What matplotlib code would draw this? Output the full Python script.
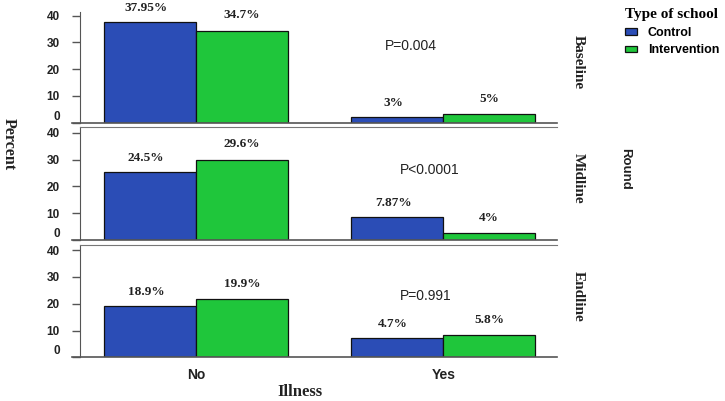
import matplotlib
matplotlib.use("Agg")
import matplotlib.pyplot as plt

rounds = ["Baseline", "Midline", "Endline"]
illness = ["No", "Yes"]
control = [[37.5, 2.0], [25.4, 8.7], [19.0, 7.3]]
intervention = [[34.4, 3.1], [30.0, 2.5], [21.7, 8.3]]
control_labels = [["37.95%", "3%"], ["24.5%", "7.87%"], ["18.9%", "4.7%"]]
intervention_labels = [["34.7%", "5%"], ["29.6%", "4%"], ["19.9%", "5.8%"]]
p_values = ["P=0.004", "P<0.0001", "P=0.991"]
yticks = [0, 10, 20, 30, 40]

BLUE = "#2b4db6"
GREEN = "#1fc63b"
SERIF = "Liberation Serif"
SANS = "Liberation Sans"

W, H = 725, 401
fig = plt.figure(figsize=(W / 100, H / 100), dpi=100)

def fx(x):
    return x / W

def fy(y):
    return 1 - y / H

# panel boxes in pixels: (top, bottom)
panels = [(12, 122.7), (127.3, 240), (245, 357.3)]
p_pos = [(0.693, 0.693), (0.733, 0.621), (0.725, 0.549)]
px_per_unit = 2.68
width = 0.372
xpos = [0, 1]

axes = []
for i, (top, bot) in enumerate(panels):
    ax = fig.add_axes([fx(80), fy(bot), (557 - 80) / W, (bot - top) / H])
    axes.append(ax)
    b1 = ax.bar([x - width / 2 for x in xpos], control[i], width,
                color=BLUE, edgecolor="#111111", linewidth=0.9)
    b2 = ax.bar([x + width / 2 for x in xpos], intervention[i], width,
                color=GREEN, edgecolor="#111111", linewidth=0.9)
    for j, x in enumerate(xpos):
        ax.annotate(control_labels[i][j], (x - width / 2, control[i][j]),
                    xytext=(-3, 10), textcoords="offset points",
                    ha="center", va="center", fontsize=9.5,
                    fontweight="bold", family=SERIF, color="#222222")
        ax.annotate(intervention_labels[i][j], (x + width / 2, intervention[i][j]),
                    xytext=(0, 11), textcoords="offset points",
                    ha="center", va="center", fontsize=9.5,
                    fontweight="bold", family=SERIF, color="#222222")
    ax.text(p_pos[i][0], p_pos[i][1], p_values[i], transform=ax.transAxes,
            ha="center", va="center", fontsize=10, family=SANS, color="#222222")

    ax.set_xlim(-0.47, 1.46)
    ax.set_ylim(0, (bot - top) / px_per_unit)
    ax.set_yticks(yticks)
    ax.set_xticks(xpos)
    ax.spines["right"].set_visible(False)
    ax.spines["bottom"].set_visible(False)
    ax.spines["left"].set_color("#555555")
    if i == 0:
        ax.spines["top"].set_visible(False)
    else:
        ax.spines["top"].set_color("#777777")
    ax.axhline(0, xmin=-0.017, xmax=1, clip_on=False, color="#555555", lw=1.2, zorder=5)
    ax.tick_params(axis="y", length=5.5, width=1, pad=9, color="#555555",
                   labelsize=8.5, labelcolor="#222222")
    ax.tick_params(axis="x", length=0, pad=8, labelsize=10, labelcolor="#222222")
    ylabs = ax.get_yticklabels()
    for lab in ylabs:
        lab.set_fontweight("bold")
        lab.set_family(SANS)
    # the zero label sits a little above its tick
    ylabs[0].set_verticalalignment("bottom")
    if i == 2:
        ax.set_xticklabels(illness, fontweight="bold", family=SANS)
    else:
        ax.set_xticklabels([])

    # round name on the right
    fig.text(fx(578), fy((top + bot) / 2 - 5), rounds[i], rotation=-90,
             ha="center", va="center", fontsize=11, fontweight="bold",
             family=SERIF, color="#222222")

fig.text(fx(9), fy(144), "Percent", rotation=-90, ha="center", va="center",
         fontsize=11.5, fontweight="bold", family=SERIF, color="#222222")
fig.text(fx(625), fy(169), "Round", rotation=-90, ha="center", va="center",
         fontsize=9.5, fontweight="bold", family=SANS, color="#222222")
fig.text(fx(300), fy(392), "Illness", ha="center", va="center",
         fontsize=12, fontweight="bold", family=SERIF, color="#222222")

leg = fig.legend(handles=[b1, b2], labels=["Control", "Intervention"],
                 title="Type of school", loc="upper left",
                 bbox_to_anchor=(fx(614), fy(-3)), frameon=False,
                 prop={"family": SANS, "weight": "bold", "size": 9},
                 title_fontproperties={"family": SERIF, "weight": "bold", "size": 11},
                 handlelength=0.9, handleheight=0.45, handletextpad=0.9,
                 labelspacing=0.45, alignment="left")

fig.savefig("out.png", dpi=100)
